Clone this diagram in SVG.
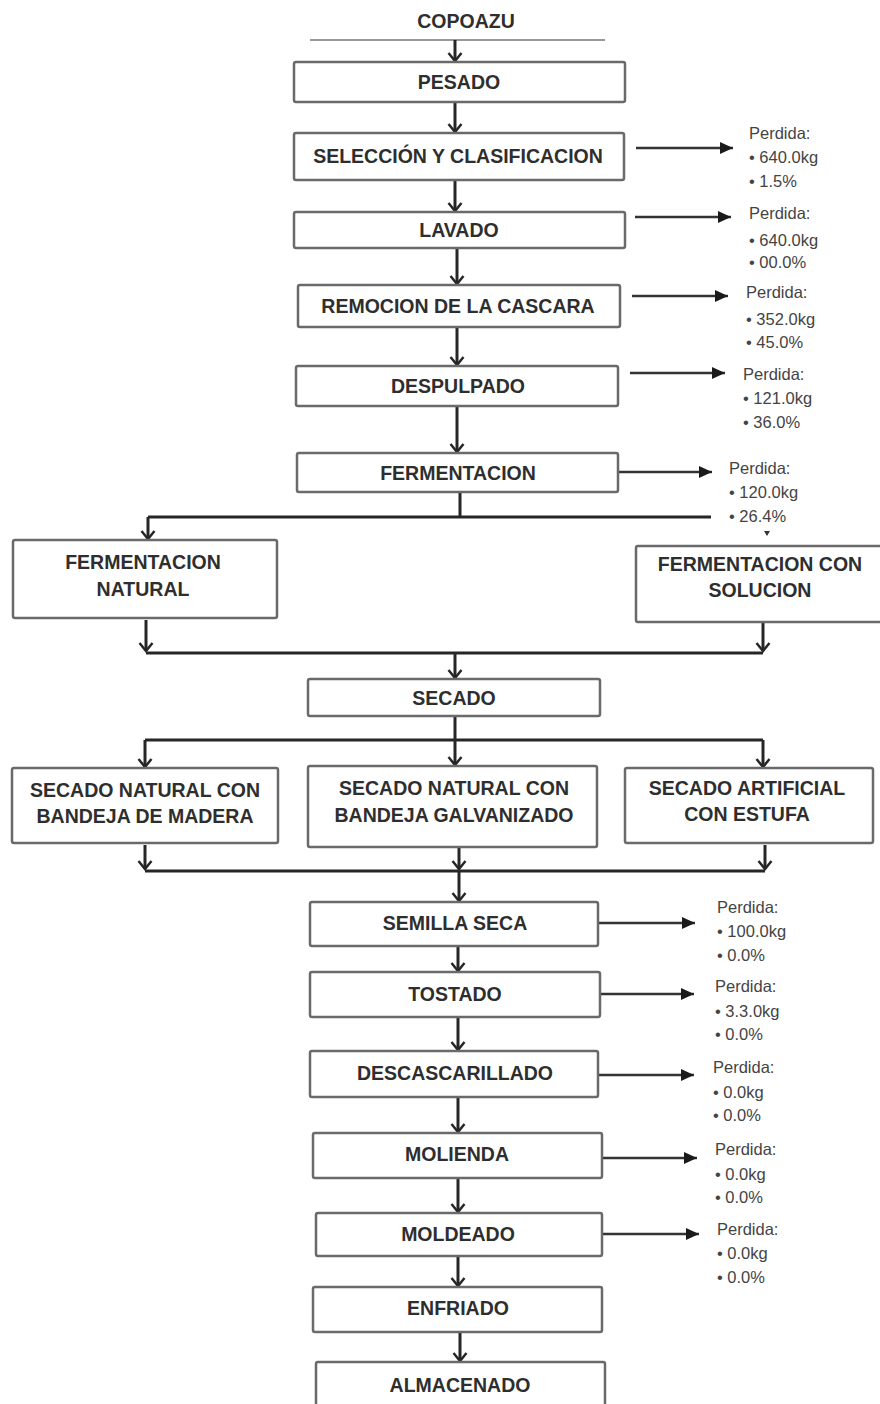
<svg xmlns="http://www.w3.org/2000/svg" width="880" height="1404" viewBox="0 0 880 1404">
<style>
.box{fill:#fff;stroke:#6a6a6a;stroke-width:2.5}
.t{font-family:"Liberation Sans",Arial,sans-serif;font-weight:bold;font-size:19.5px;fill:#2e2e2e;text-anchor:middle}
.c{fill:none;stroke:#262626;stroke-width:3}
.ca{fill:none;stroke:#333;stroke-width:2.5}
.l{font-family:"Liberation Sans",Arial,sans-serif;font-size:16.5px;fill:#444}
</style>
<defs>
<marker id="v" viewBox="-10 -8 12 16" refX="0" refY="0" markerWidth="12" markerHeight="16" markerUnits="userSpaceOnUse" orient="auto">
<path d="M-8,-6.5 L0,0 L-8,6.5" fill="none" stroke="#262626" stroke-width="2.5"/>
</marker>
<marker id="tri" viewBox="-14 -7 15 14" refX="0" refY="0" markerWidth="15" markerHeight="14" markerUnits="userSpaceOnUse" orient="auto">
<path d="M-13,-6 L0,0 L-13,6 Z" fill="#1a1a1a"/>
</marker>
</defs>
<rect width="880" height="1404" fill="#fff"/>

<g id="title">
<text class="t" x="466" y="28" font-size="22">COPOAZU</text>
<line x1="310" y1="40" x2="605" y2="40" stroke="#999" stroke-width="2"/>
</g>

<g id="connectors">
<line class="c" x1="455" y1="40" x2="455" y2="61" marker-end="url(#v)"/>
<line class="c" x1="455" y1="102" x2="455" y2="132" marker-end="url(#v)"/>
<line class="c" x1="455" y1="180" x2="455" y2="211" marker-end="url(#v)"/>
<line class="c" x1="457" y1="248" x2="457" y2="284" marker-end="url(#v)"/>
<line class="c" x1="457" y1="327" x2="457" y2="365" marker-end="url(#v)"/>
<line class="c" x1="457" y1="406" x2="457" y2="452" marker-end="url(#v)"/>
<polyline class="c" points="460,492 460,517"/>
<line class="c" x1="148" y1="517" x2="711" y2="517"/>
<line class="c" x1="148" y1="517" x2="148" y2="539" marker-end="url(#v)"/>
<path d="M764,531 L770,531 L767,536 Z" fill="#333"/>
<line class="c" x1="146" y1="620" x2="146" y2="651" marker-end="url(#v)"/>
<line class="c" x1="763" y1="623" x2="763" y2="651" marker-end="url(#v)"/>
<line class="c" x1="146" y1="653" x2="763" y2="653"/>
<line class="c" x1="455" y1="653" x2="455" y2="678" marker-end="url(#v)"/>
<line class="c" x1="455" y1="716" x2="455" y2="740"/>
<line class="c" x1="145" y1="740" x2="763" y2="740"/>
<line class="c" x1="145" y1="740" x2="145" y2="767" marker-end="url(#v)"/>
<line class="c" x1="455" y1="740" x2="455" y2="765" marker-end="url(#v)"/>
<line class="c" x1="763" y1="740" x2="763" y2="767" marker-end="url(#v)"/>
<line class="c" x1="145" y1="845" x2="145" y2="869" marker-end="url(#v)"/>
<line class="c" x1="459" y1="848" x2="459" y2="869" marker-end="url(#v)"/>
<line class="c" x1="765" y1="845" x2="765" y2="869" marker-end="url(#v)"/>
<line class="c" x1="145" y1="871" x2="765" y2="871"/>
<line class="c" x1="459" y1="871" x2="459" y2="901" marker-end="url(#v)"/>
<line class="c" x1="458" y1="946" x2="458" y2="971" marker-end="url(#v)"/>
<line class="c" x1="458" y1="1017" x2="458" y2="1050" marker-end="url(#v)"/>
<line class="c" x1="458" y1="1097" x2="458" y2="1132" marker-end="url(#v)"/>
<line class="c" x1="458" y1="1178" x2="458" y2="1212" marker-end="url(#v)"/>
<line class="c" x1="458" y1="1256" x2="458" y2="1286" marker-end="url(#v)"/>
<line class="c" x1="460" y1="1332" x2="460" y2="1361" marker-end="url(#v)"/>

<line class="ca" x1="636" y1="148" x2="733" y2="148" marker-end="url(#tri)"/>
<line class="ca" x1="635" y1="217" x2="731" y2="217" marker-end="url(#tri)"/>
<line class="ca" x1="632" y1="296" x2="728" y2="296" marker-end="url(#tri)"/>
<line class="ca" x1="630" y1="373" x2="725" y2="373" marker-end="url(#tri)"/>
<line class="ca" x1="619" y1="472" x2="712" y2="472" marker-end="url(#tri)"/>
<line class="ca" x1="598" y1="923" x2="695" y2="923" marker-end="url(#tri)"/>
<line class="ca" x1="599" y1="994" x2="694" y2="994" marker-end="url(#tri)"/>
<line class="ca" x1="598" y1="1075" x2="694" y2="1075" marker-end="url(#tri)"/>
<line class="ca" x1="602" y1="1158" x2="697" y2="1158" marker-end="url(#tri)"/>
<line class="ca" x1="602" y1="1234" x2="699" y2="1234" marker-end="url(#tri)"/>
</g>

<g id="pesado"><rect class="box" x="294" y="62" width="331" height="40" rx="2"/><text class="t" x="459" y="89">PESADO</text></g>
<g id="seleccion"><rect class="box" x="294" y="133" width="330" height="47" rx="2"/><text class="t" x="458" y="163">SELECCIÓN Y CLASIFICACION</text></g>
<g id="lavado"><rect class="box" x="294" y="212" width="331" height="36" rx="2"/><text class="t" x="459" y="237">LAVADO</text></g>
<g id="remocion"><rect class="box" x="298" y="285" width="322" height="42" rx="2"/><text class="t" x="458" y="313">REMOCION DE LA CASCARA</text></g>
<g id="despulpado"><rect class="box" x="296" y="366" width="322" height="40" rx="2"/><text class="t" x="458" y="393">DESPULPADO</text></g>
<g id="fermentacion"><rect class="box" x="297" y="453" width="321" height="39" rx="2"/><text class="t" x="458" y="480">FERMENTACION</text></g>
<g id="ferm-natural"><rect class="box" x="13" y="540" width="264" height="78" rx="2"/><text class="t" x="143" y="569">FERMENTACION</text><text class="t" x="143" y="596">NATURAL</text></g>
<g id="ferm-solucion"><rect class="box" x="636" y="546" width="246" height="76" rx="2"/><text class="t" x="760" y="571">FERMENTACION CON</text><text class="t" x="760" y="597">SOLUCION</text></g>
<g id="secado"><rect class="box" x="308" y="679" width="292" height="37" rx="2"/><text class="t" x="454" y="705">SECADO</text></g>
<g id="secado-madera"><rect class="box" x="12" y="768" width="266" height="75" rx="2"/><text class="t" x="145" y="797">SECADO NATURAL CON</text><text class="t" x="145" y="823">BANDEJA DE MADERA</text></g>
<g id="secado-galv"><rect class="box" x="308" y="766" width="289" height="81" rx="2"/><text class="t" x="454" y="795">SECADO NATURAL CON</text><text class="t" x="454" y="822">BANDEJA GALVANIZADO</text></g>
<g id="secado-artificial"><rect class="box" x="625" y="768" width="248" height="75" rx="2"/><text class="t" x="747" y="795">SECADO ARTIFICIAL</text><text class="t" x="747" y="821">CON ESTUFA</text></g>
<g id="semilla"><rect class="box" x="310" y="902" width="288" height="44" rx="2"/><text class="t" x="455" y="930">SEMILLA SECA</text></g>
<g id="tostado"><rect class="box" x="310" y="972" width="290" height="45" rx="2"/><text class="t" x="455" y="1001">TOSTADO</text></g>
<g id="descascarillado"><rect class="box" x="310" y="1051" width="288" height="46" rx="2"/><text class="t" x="455" y="1080">DESCASCARILLADO</text></g>
<g id="molienda"><rect class="box" x="313" y="1133" width="289" height="45" rx="2"/><text class="t" x="457" y="1161">MOLIENDA</text></g>
<g id="moldeado"><rect class="box" x="316" y="1213" width="286" height="43" rx="2"/><text class="t" x="458" y="1241">MOLDEADO</text></g>
<g id="enfriado"><rect class="box" x="313" y="1287" width="289" height="45" rx="2"/><text class="t" x="458" y="1315">ENFRIADO</text></g>
<g id="almacenado"><rect class="box" x="316" y="1362" width="289" height="50" rx="2"/><text class="t" x="460" y="1392">ALMACENADO</text></g>

<g id="loss1" class="l"><text x="749" y="139">Perdida:</text><text x="749" y="163">• 640.0kg</text><text x="749" y="187">• 1.5%</text></g>
<g id="loss2" class="l"><text x="749" y="219">Perdida:</text><text x="749" y="246">• 640.0kg</text><text x="749" y="268">• 00.0%</text></g>
<g id="loss3" class="l"><text x="746" y="298">Perdida:</text><text x="746" y="325">• 352.0kg</text><text x="746" y="348">• 45.0%</text></g>
<g id="loss4" class="l"><text x="743" y="380">Perdida:</text><text x="743" y="404">• 121.0kg</text><text x="743" y="428">• 36.0%</text></g>
<g id="loss5" class="l"><text x="729" y="474">Perdida:</text><text x="729" y="498">• 120.0kg</text><text x="729" y="522">• 26.4%</text></g>
<g id="loss6" class="l"><text x="717" y="913">Perdida:</text><text x="717" y="937">• 100.0kg</text><text x="717" y="961">• 0.0%</text></g>
<g id="loss7" class="l"><text x="715" y="992">Perdida:</text><text x="715" y="1017">• 3.3.0kg</text><text x="715" y="1040">• 0.0%</text></g>
<g id="loss8" class="l"><text x="713" y="1073">Perdida:</text><text x="713" y="1098">• 0.0kg</text><text x="713" y="1121">• 0.0%</text></g>
<g id="loss9" class="l"><text x="715" y="1155">Perdida:</text><text x="715" y="1180">• 0.0kg</text><text x="715" y="1203">• 0.0%</text></g>
<g id="loss10" class="l"><text x="717" y="1235">Perdida:</text><text x="717" y="1259">• 0.0kg</text><text x="717" y="1283">• 0.0%</text></g>
</svg>
